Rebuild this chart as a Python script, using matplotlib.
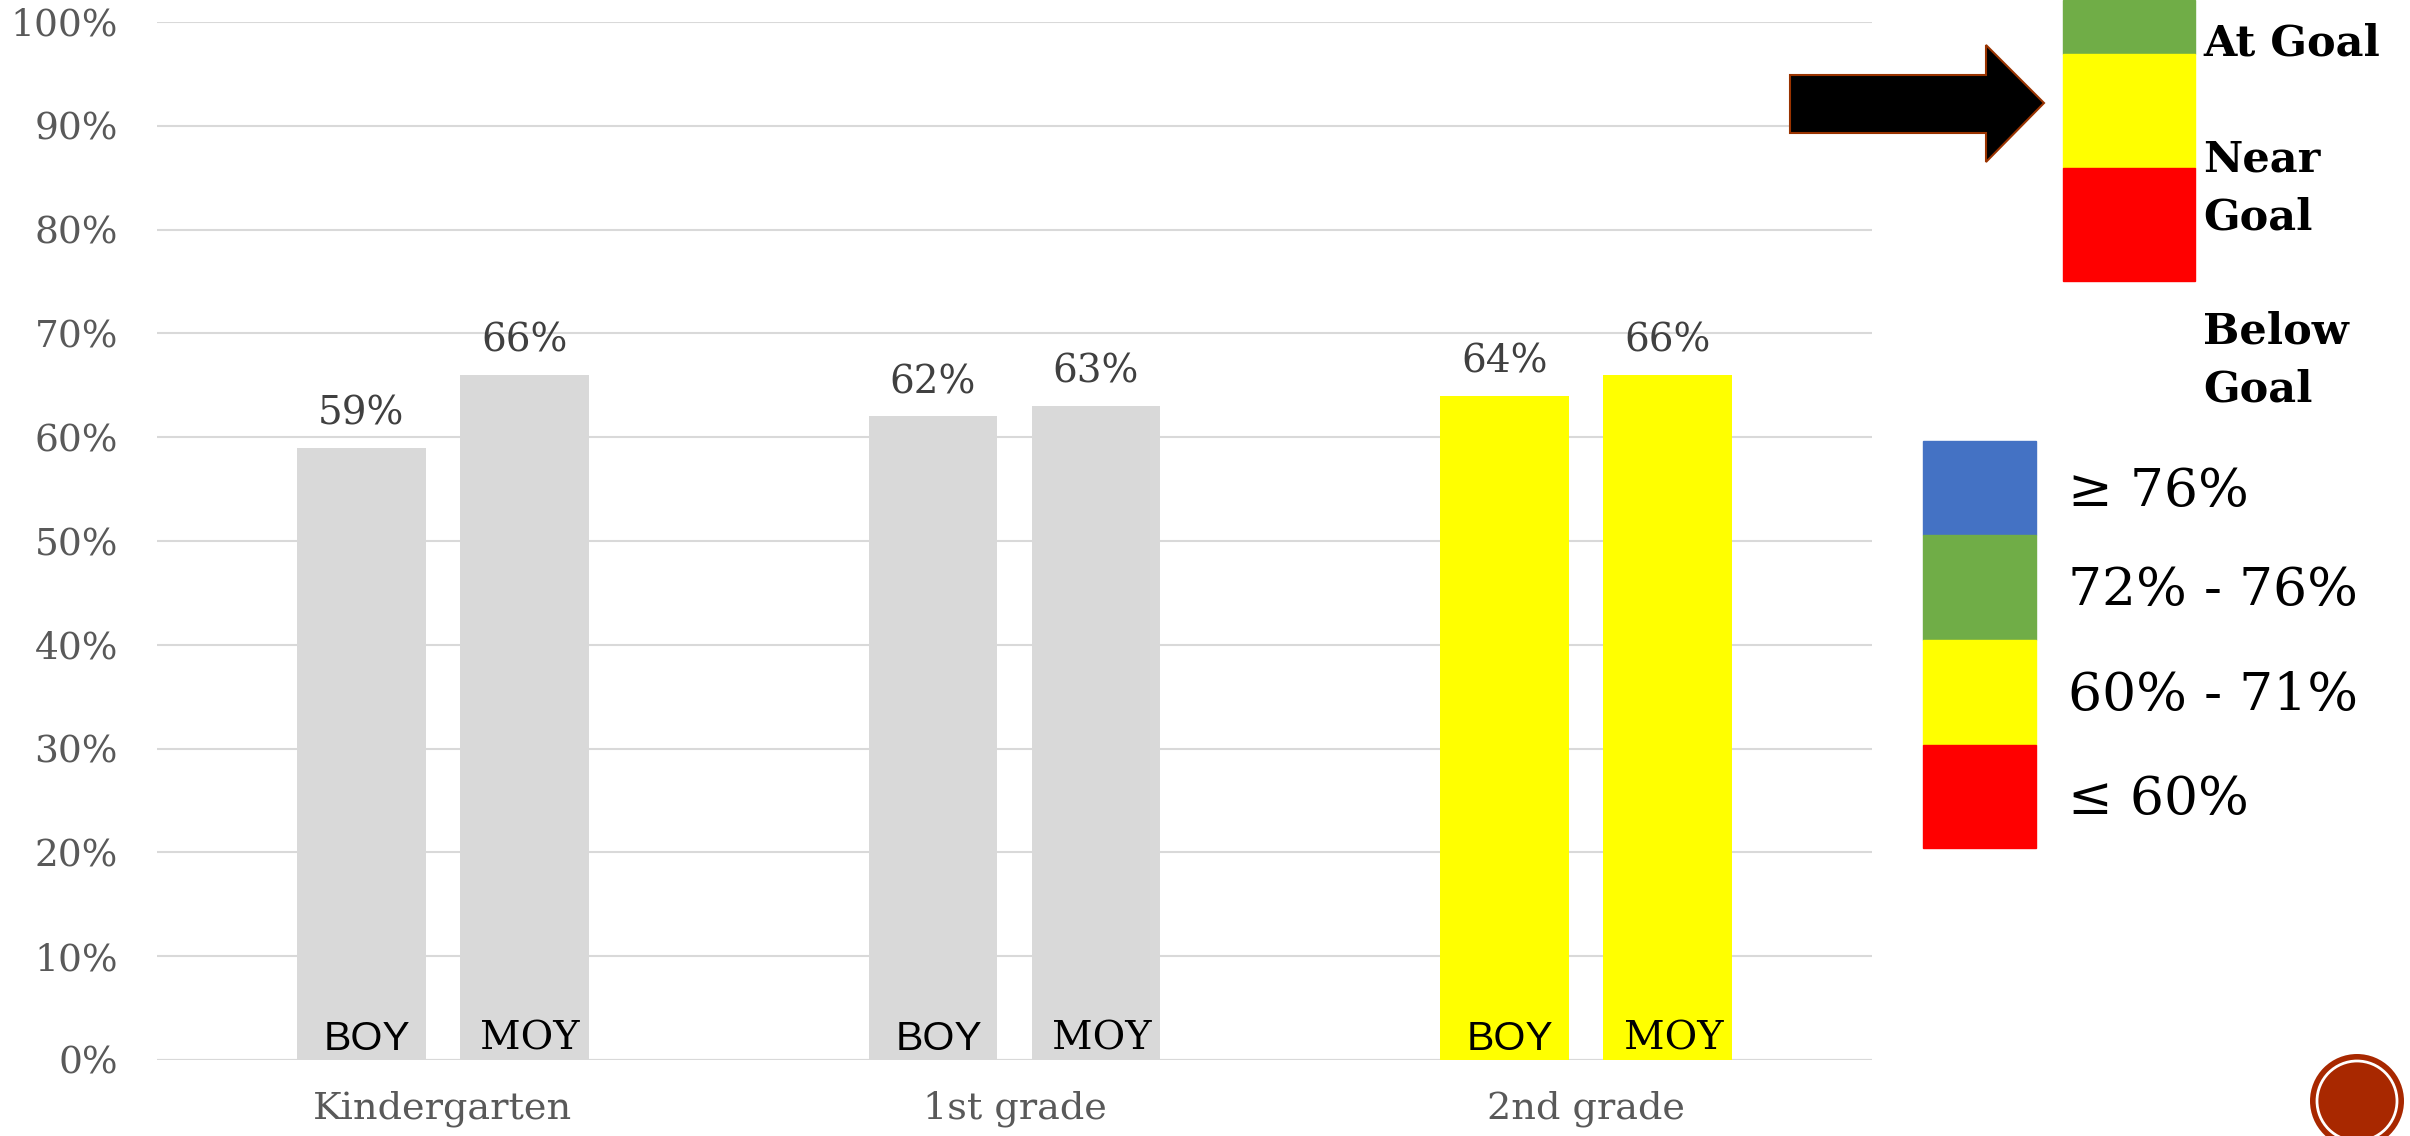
import matplotlib
matplotlib.use("Agg")
import matplotlib.pyplot as plt
from matplotlib.patches import Rectangle, Polygon, Ellipse
import numpy as np

# data
grades = ["Kindergarten", "1st grade", "2nd grade"]
boy = [59, 62, 64]
moy = [66, 63, 66]
bar_colors = ["#D9D9D9", "#D9D9D9", "#FFFF00"]
yticks = [0, 10, 20, 30, 40, 50, 60, 70, 80, 90, 100]

W, H = 2410, 1136
fig = plt.figure(figsize=(W / 100, H / 100), dpi=100)


def px(x, y):
    # image pixel -> figure fraction
    return x / W, 1 - y / H


ax = fig.add_axes([157 / W, 1 - 1060 / H, (1872 - 157) / W, (1060 - 22) / H])
x = np.arange(len(grades))
bw = 0.225
off = 0.1425
b1 = ax.bar(x - off, boy, bw, color=bar_colors, zorder=2)
b2 = ax.bar(x + off, moy, bw, color=bar_colors, zorder=2)

ax.set_xlim(-0.5, 2.5)
ax.set_ylim(0, 100)
ax.set_yticks(yticks)
ax.set_yticklabels([f"{v}%" for v in yticks], fontsize=27, color="#595959",
                   family="DejaVu Serif")
ax.set_xticks(x)
ax.set_xticklabels(grades, fontsize=27.5, color="#595959", family="DejaVu Serif")
ax.tick_params(axis="y", length=0, pad=28)
ax.tick_params(axis="x", length=0, pad=22)
ax.grid(axis="y", color="#D9D9D9", linewidth=1.5, zorder=0)
for s in ax.spines.values():
    s.set_visible(False)
ax.axhline(0, color="#D9D9D9", linewidth=1.5, zorder=1)

for bars in (b1, b2):
    for r in bars:
        ax.annotate(f"{r.get_height():.0f}%", (r.get_x() + r.get_width() / 2, r.get_height()),
                    xytext=(0, 11), textcoords="offset points", ha="center", va="bottom",
                    fontsize=28, color="#404040", family="DejaVu Serif")

for i in range(len(grades)):
    ax.text(x[i] - off + 0.01, 1.0, "BOY", ha="center", va="baseline", fontsize=29.5,
            color="black", family="Liberation Sans")
    ax.text(x[i] + off + 0.01, 1.0, "MOY", ha="center", va="baseline", fontsize=28.5,
            color="black", family="DejaVu Serif")

# top right goal scale
for y0, y1, c in [(0, 54, "#70AD47"), (54, 168, "#FFFF00"), (168, 281, "#FF0000")]:
    fx, fy = px(2063, y1)
    fig.patches.append(Rectangle((fx, fy), 132 / W, (y1 - y0) / H, color=c,
                                 transform=fig.transFigure))
for txt, yy in [("At Goal", 44), ("Near", 160), ("Goal", 217), ("Below", 332), ("Goal", 389)]:
    fig.text(*px(2203, yy), txt, fontsize=31, fontweight="bold", family="DejaVu Serif",
             va="center", ha="left")

# arrow
arrow_pts = [(1790, 75), (1986, 75), (1986, 45), (2044, 103), (1986, 162),
             (1986, 133), (1790, 133)]
fig.patches.append(Polygon([px(a, b) for a, b in arrow_pts], closed=True,
                           facecolor="black", edgecolor="#993300", linewidth=1.5,
                           transform=fig.transFigure))

# lower legend
leg = [("≥ 76%", "#4472C4", 441, 535), ("72% - 76%", "#70AD47", 535, 640),
       ("60% - 71%", "#FFFF00", 640, 745), ("≤ 60%", "#FF0000", 745, 848)]
for txt, c, y0, y1 in leg:
    fx, fy = px(1923, y1)
    fig.patches.append(Rectangle((fx, fy), 113 / W, (y1 - y0) / H, color=c,
                                 transform=fig.transFigure))
    fig.text(*px(2068, (y0 + y1) / 2 + 3), txt, fontsize=38.5, family="DejaVu Serif",
             va="center", ha="left", color="black")

# logo
fig.patches.append(Ellipse(px(2357, 1101), 94 / W, 94 / H, facecolor="#A82800",
                           transform=fig.transFigure))
fig.patches.append(Ellipse(px(2357, 1101), 80 / W, 80 / H, facecolor="none",
                           edgecolor="white", linewidth=2, transform=fig.transFigure))

fig.savefig("out.png", dpi=100)
